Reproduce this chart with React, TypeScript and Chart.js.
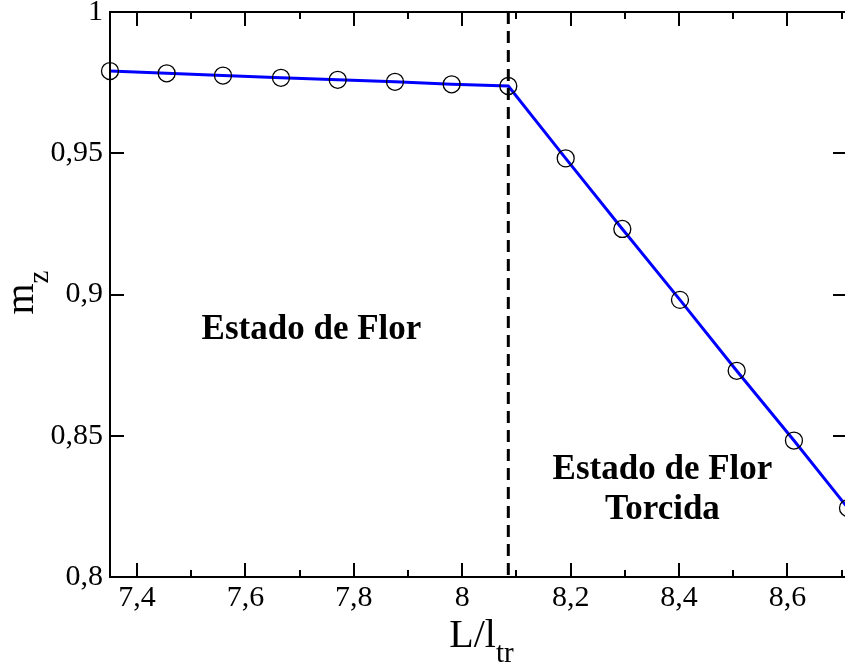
import React, { useEffect, useRef } from 'react';
import { Chart, registerables } from 'chart.js';

Chart.register(...registerables);

// ---- data ----
const xValues = [7.35, 7.4546, 7.5585, 7.6655, 7.7702, 7.8759, 7.9805, 8.085, 8.1909, 8.2954, 8.4018, 8.5064, 8.6121, 8.7118];
const mzValues = [0.9791, 0.9783, 0.9775, 0.9767, 0.976, 0.9753, 0.9744, 0.9738, 0.9482, 0.9232, 0.8981, 0.873, 0.8483, 0.8244];
const xMajorTicks = [7.4, 7.6, 7.8, 8, 8.2, 8.4, 8.6];
const xMinorTicks = [7.5, 7.7, 7.9, 8.1, 8.3, 8.5, 8.7];
const yTicks = [0.8, 0.85, 0.9, 0.95, 1];
const xRange = [7.35, 8.71];
const yRange = [0.8, 1];
const transitionX = 8.085;
const xTitle = ['L/l', 'tr'];
const yTitle = ['m', 'z'];
const leftRegionLines = ['Estado de Flor'];
const rightRegionLines = ['Estado de Flor', 'Torcida'];
// anchor (data coords) for region labels
const leftRegionAnchor = { x: 7.7218, y: 0.8842 };
const rightRegionAnchor = { x: 8.3695, y: 0.8347 };

const fmt = (v: number) => String(v).replace('.', ',');
const SERIF = '"Liberation Serif", "Times New Roman", serif';

const decorPlugin = {
  id: 'decor',
  afterDatasetsDraw(chart: any) {
    const { ctx, chartArea: a, scales } = chart;
    const x = scales.x;
    ctx.save();
    const dx = x.getPixelForValue(transitionX);
    ctx.strokeStyle = '#000';
    ctx.lineWidth = 3;
    ctx.setLineDash([12, 7]);
    ctx.beginPath();
    ctx.moveTo(dx, a.top);
    ctx.lineTo(dx, a.bottom);
    ctx.stroke();
    ctx.restore();
  },
  afterDraw(chart: any) {
    const { ctx, chartArea: a, scales } = chart;
    const x = scales.x;
    const y = scales.y;
    ctx.save();
    ctx.strokeStyle = '#000';
    ctx.lineWidth = 2;
    ctx.setLineDash([]);
    // frame
    ctx.beginPath();
    ctx.rect(a.left, a.top, a.right - a.left, a.bottom - a.top);
    ctx.stroke();
    // ticks
    ctx.lineWidth = 2;
    const major = 14;
    const minor = 7;
    ctx.beginPath();
    xMajorTicks.forEach((v) => {
      const px = Math.round(x.getPixelForValue(v));
      ctx.moveTo(px, a.bottom);
      ctx.lineTo(px, a.bottom - major);
      ctx.moveTo(px, a.top);
      ctx.lineTo(px, a.top + major);
    });
    xMinorTicks.forEach((v) => {
      const px = Math.round(x.getPixelForValue(v));
      ctx.moveTo(px, a.bottom);
      ctx.lineTo(px, a.bottom - minor);
      ctx.moveTo(px, a.top);
      ctx.lineTo(px, a.top + minor);
    });
    yTicks.forEach((v) => {
      const py = Math.round(y.getPixelForValue(v));
      ctx.moveTo(a.left, py);
      ctx.lineTo(a.left + major, py);
      ctx.moveTo(a.right, py);
      ctx.lineTo(a.right - major, py);
    });
    ctx.stroke();

    // region labels
    ctx.fillStyle = '#000';
    ctx.font = 'bold 35px ' + SERIF;
    ctx.textAlign = 'center';
    ctx.textBaseline = 'alphabetic';
    const lx = x.getPixelForValue(leftRegionAnchor.x);
    const ly = y.getPixelForValue(leftRegionAnchor.y);
    leftRegionLines.forEach((t, i) => ctx.fillText(t, lx, ly + i * 40));
    const rx = x.getPixelForValue(rightRegionAnchor.x);
    const ry = y.getPixelForValue(rightRegionAnchor.y);
    rightRegionLines.forEach((t, i) => ctx.fillText(t, rx, ry + i * 40));

    // x title
    const mainFont = '40px ' + SERIF;
    const subFont = '29px ' + SERIF;
    ctx.textAlign = 'left';
    ctx.font = mainFont;
    const w1 = ctx.measureText(xTitle[0]).width;
    ctx.font = subFont;
    const w2 = ctx.measureText(xTitle[1]).width;
    const cx = (a.left + a.right) / 2 + 3;
    const startX = cx - (w1 + w2) / 2;
    ctx.font = mainFont;
    ctx.fillText(xTitle[0], startX, 647);
    ctx.font = subFont;
    ctx.fillText(xTitle[1], startX + w1, 662);

    // y title (rotated)
    ctx.font = mainFont;
    const m1 = ctx.measureText(yTitle[0]).width;
    ctx.font = subFont;
    const m2 = ctx.measureText(yTitle[1]).width;
    ctx.translate(33, (a.top + a.bottom) / 2 - 2);
    ctx.rotate(-Math.PI / 2);
    const sx = -(m1 + m2) / 2;
    ctx.font = mainFont;
    ctx.fillText(yTitle[0], sx, 0);
    ctx.font = subFont;
    ctx.fillText(yTitle[1], sx + m1, 15);
    ctx.restore();
  },
};

export default function App() {
  const ref = useRef<HTMLCanvasElement | null>(null);
  useEffect(() => {
    const canvas = ref.current;
    if (!canvas) return;
    const chart = new Chart(canvas, {
      type: 'line',
      data: {
        datasets: [
          {
            data: xValues.map((v, i) => ({ x: v, y: mzValues[i] })),
            borderColor: '#0000ff',
            borderWidth: 3,
            pointRadius: 8.5,
            pointHoverRadius: 8.5,
            pointBorderColor: '#000',
            pointBackgroundColor: 'rgba(0,0,0,0)',
            pointBorderWidth: 1.3,
            tension: 0,
            clip: false as any,
          },
        ],
      },
      options: {
        responsive: false,
        animation: false,
        devicePixelRatio: 1,
        layout: { autoPadding: false, padding: { top: 12, right: 3, left: 0, bottom: 0 } },
        plugins: { legend: { display: false }, tooltip: { enabled: false } },
        events: [],
        scales: {
          x: {
            type: 'linear',
            min: xRange[0],
            max: xRange[1],
            grid: { display: false, drawTicks: false },
            border: { display: false },
            ticks: {
              color: '#000',
              font: { family: SERIF, size: 30 },
              padding: 3,
              maxRotation: 0,
              autoSkip: false,
              callback: (v: any) => fmt(Number(v)),
            },
            afterBuildTicks: (s: any) => {
              s.ticks = xMajorTicks.map((v) => ({ value: v }));
            },
            afterFit: (s: any) => {
              s.height = 89;
              s.paddingLeft = 0;
              s.paddingRight = 0;
            },
          },
          y: {
            type: 'linear',
            min: yRange[0],
            max: yRange[1],
            grid: { display: false, drawTicks: false },
            border: { display: false },
            ticks: {
              color: '#000',
              font: { family: SERIF, size: 30 },
              padding: 7,
              autoSkip: false,
              callback: (v: any) => fmt(Number(v)),
            },
            afterBuildTicks: (s: any) => {
              s.ticks = yTicks.map((v) => ({ value: v }));
            },
            afterFit: (s: any) => {
              s.width = 110;
              s.paddingTop = 0;
              s.paddingBottom = 0;
            },
          },
        },
      } as any,
      plugins: [decorPlugin],
    });
    return () => chart.destroy();
  }, []);
  return (
    <div
      style={{
        position: 'fixed',
        left: 0,
        top: 0,
        width: 845,
        height: 666,
        overflow: 'hidden',
        background: '#fff',
      }}
    >
      <canvas ref={ref} width={850} height={666} style={{ display: 'block', width: 850, height: 666 }} />
    </div>
  );
}
